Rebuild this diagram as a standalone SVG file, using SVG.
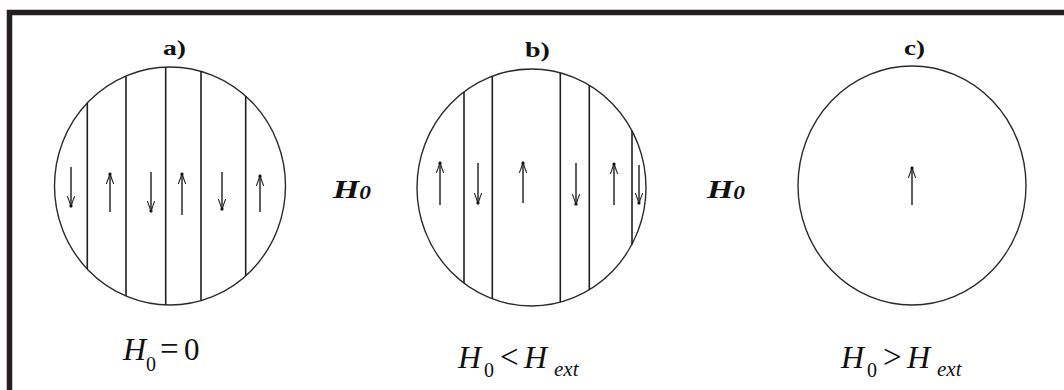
<svg xmlns="http://www.w3.org/2000/svg" width="1064" height="390" viewBox="0 0 1064 390">
<defs>
<marker id="ah" viewBox="0 0 12 10" refX="11" refY="5" markerWidth="12" markerHeight="10" markerUnits="userSpaceOnUse" orient="auto">
<path d="M0,1.3 Q6,3.8 11,5 Q6,6.2 0,8.7" fill="none" stroke="#2a2a2a" stroke-width="1.1"/>
<circle cx="10" cy="5" r="1.6" fill="#111"/>
</marker>
</defs>
<style>
.frame{fill:none;stroke:#231f20;stroke-width:5.5}
.disk{fill:none;stroke:#2a2a2a;stroke-width:1.4}
.wall{stroke:#1e1e1e;stroke-width:1.6}
.arr{stroke:#2a2a2a;stroke-width:1.5;marker-end:url(#ah)}
.title{font-family:"Liberation Serif","Times New Roman",serif;font-weight:bold;font-size:21px;fill:#111}
.h0{font-family:"Liberation Serif","Times New Roman",serif;font-weight:bold;font-style:italic;fill:#111}
.eq{font-family:"Liberation Serif","Times New Roman",serif;fill:#111}
.it{font-style:italic}
</style>
<rect x="0" y="0" width="1064" height="390" fill="#ffffff"/>
<rect class="frame" x="9.5" y="12.5" width="1070" height="400"/>

<g id="panel-a">
<text class="title" x="163" y="55" textLength="23" lengthAdjust="spacingAndGlyphs">a)</text>
<ellipse class="disk" cx="170" cy="186" rx="115.5" ry="119"/>
<line class="wall" x1="87.3" y1="103" x2="87.3" y2="269"/>
<line class="wall" x1="126" y1="76" x2="126" y2="296"/>
<line class="wall" x1="165.7" y1="67" x2="165.7" y2="305"/>
<line class="wall" x1="201" y1="71.3" x2="201" y2="300.7"/>
<line class="wall" x1="245.7" y1="96" x2="245.7" y2="276"/>
<line class="arr" x1="71" y1="167" x2="71" y2="207"/>
<line class="arr" x1="110" y1="212" x2="110" y2="173"/>
<line class="arr" x1="151" y1="172" x2="151" y2="212"/>
<line class="arr" x1="182" y1="215" x2="182" y2="173"/>
<line class="arr" x1="222" y1="172" x2="222" y2="210"/>
<line class="arr" x1="260" y1="212" x2="260" y2="175"/>
<text class="eq" y="360"><tspan class="it" x="123" font-size="32">H</tspan><tspan x="146" y="371" font-size="20">0</tspan><tspan x="160" y="360" font-size="33">=</tspan><tspan x="184" y="360" font-size="31">0</tspan></text>
</g>

<g id="field-ab">
<text class="h0" x="333" y="198" font-size="26" textLength="38" lengthAdjust="spacingAndGlyphs">H<tspan font-size="18" dy="1">0</tspan></text>
</g>

<g id="panel-b">
<text class="title" x="525" y="57" textLength="25" lengthAdjust="spacingAndGlyphs">b)</text>
<ellipse class="disk" cx="531.5" cy="187.5" rx="114.5" ry="118.5"/>
<line class="wall" x1="464" y1="91.8" x2="464" y2="283.2"/>
<line class="wall" x1="492.3" y1="76.2" x2="492.3" y2="298.8"/>
<line class="wall" x1="560.3" y1="72.8" x2="560.3" y2="302.2"/>
<line class="wall" x1="589.3" y1="85.2" x2="589.3" y2="289.8"/>
<line class="wall" x1="632" y1="130.7" x2="632" y2="244.3"/>
<line class="arr" x1="440" y1="205" x2="440" y2="162"/>
<line class="arr" x1="478" y1="163" x2="478" y2="204"/>
<line class="arr" x1="523" y1="203" x2="523" y2="162"/>
<line class="arr" x1="576" y1="163" x2="576" y2="205"/>
<line class="arr" x1="614" y1="205" x2="614" y2="163"/>
<line class="arr" x1="639" y1="165" x2="639" y2="204"/>
<text class="eq" y="368"><tspan class="it" x="458" font-size="32">H</tspan><tspan x="484" y="377" font-size="20">0</tspan><tspan x="500" y="368" font-size="33">&lt;</tspan><tspan class="it" x="524" y="368" font-size="32">H</tspan><tspan class="it" x="554" y="376" font-size="21">ext</tspan></text>
</g>

<g id="field-bc">
<text class="h0" x="707" y="198" font-size="26" textLength="38" lengthAdjust="spacingAndGlyphs">H<tspan font-size="18" dy="1">0</tspan></text>
</g>

<g id="panel-c">
<text class="title" x="904" y="55" textLength="21" lengthAdjust="spacingAndGlyphs">c)</text>
<ellipse class="disk" cx="912" cy="185.5" rx="114" ry="119.5"/>
<line class="arr" x1="912" y1="205" x2="912" y2="167"/>
<text class="eq" y="368"><tspan class="it" x="841" font-size="32">H</tspan><tspan x="867" y="377" font-size="20">0</tspan><tspan x="883" y="368" font-size="33">&gt;</tspan><tspan class="it" x="907" y="368" font-size="32">H</tspan><tspan class="it" x="937" y="376" font-size="21">ext</tspan></text>
</g>
</svg>
